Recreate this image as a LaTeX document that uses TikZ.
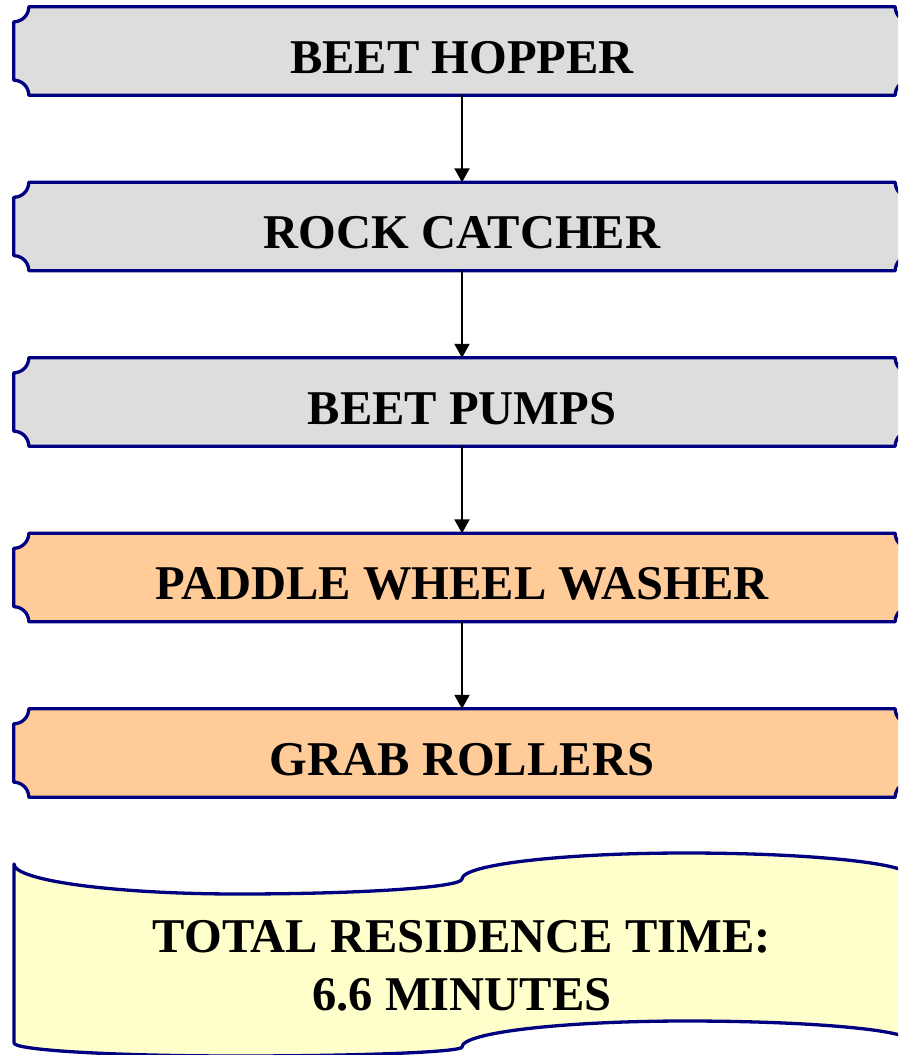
\documentclass[tikz,border=0pt]{standalone}
\usepackage{fontspec}
\setmainfont{Liberation Serif}
\usetikzlibrary{arrows.meta,backgrounds}
\definecolor{navy}{RGB}{0,0,128}
\definecolor{boxgray}{RGB}{221,221,221}
\definecolor{boxorange}{RGB}{255,204,153}
\definecolor{noteyellow}{RGB}{255,255,204}
\tikzset{
  outline/.style={draw=navy, line width=3.3pt, line join=round},
  stage/.style={minimum width=896pt, minimum height=88pt, inner sep=0pt,
    text height=44pt, text depth=0pt,
    font=\bfseries\fontsize{48.5}{58}\selectfont},
  flow/.style={line width=2.1pt, -{Triangle[length=14pt,width=15pt]}},
  totaltext/.style={inner sep=0pt, align=center,
    font=\bfseries\fontsize{48.5}{58}\selectfont}
}
\newcommand\plaquebox[2]{%
  \begin{pgfonlayer}{background}
  \begin{scope}
  \clip (0,0) rectangle (898,-1055);
  \draw[outline, fill=#2] ([xshift=15pt]#1.north west) -- ([xshift=-15pt]#1.north east)
    arc[start angle=180, end angle=270, radius=15pt]
    -- ([yshift=15pt]#1.south east)
    arc[start angle=90, end angle=180, radius=15pt]
    -- ([xshift=15pt]#1.south west)
    arc[start angle=0, end angle=90, radius=15pt]
    -- ([yshift=-15pt]#1.north west)
    arc[start angle=270, end angle=360, radius=15pt]
    -- cycle;
  \end{scope}
  \end{pgfonlayer}}
\begin{document}
\begin{tikzpicture}[x=1pt, y=1pt]
\useasboundingbox (0,0) rectangle (898,-1055);
\begin{scope}
\clip (0,0) rectangle (898,-1055);
% total residence time (punched tape shape)
\draw[outline, fill=noteyellow]
  (14,-864) .. controls (14,-880.6) and (114.4,-894) .. (238,-894)
  .. controls (361.6,-894) and (462,-887.3) .. (462,-879)
  .. controls (462,-864.6) and (562.4,-853) .. (686,-853)
  .. controls (809.6,-853) and (910,-863.3) .. (910,-876)
  -- (910,-1041)
  .. controls (910,-1030) and (809.6,-1021) .. (686,-1021)
  .. controls (562.4,-1021) and (462,-1032.6) .. (462,-1047)
  .. controls (462,-1052) and (361.6,-1056) .. (238,-1056)
  .. controls (114.4,-1056) and (14,-1050.2) .. (14,-1043)
  -- cycle;
\end{scope}
\node[stage] (b1) at (462,-51) {BEET HOPPER};
\node[stage] (b2) at (462,-226.5) {ROCK CATCHER};
\node[stage] (b3) at (462,-402) {BEET PUMPS};
\node[stage] (b4) at (462,-577.5) {PADDLE WHEEL WASHER};
\node[stage] (b5) at (462,-753) {GRAB ROLLERS};
\plaquebox{b1}{boxgray}
\plaquebox{b2}{boxgray}
\plaquebox{b3}{boxgray}
\plaquebox{b4}{boxorange}
\plaquebox{b5}{boxorange}
\draw[flow] (b1.south) -- (b2.north);
\draw[flow] (b2.south) -- (b3.north);
\draw[flow] (b3.south) -- (b4.north);
\draw[flow] (b4.south) -- (b5.north);
\node[totaltext] (total) at (462,-966) {TOTAL RESIDENCE TIME:\\6.6 MINUTES};
\end{tikzpicture}
\end{document}
